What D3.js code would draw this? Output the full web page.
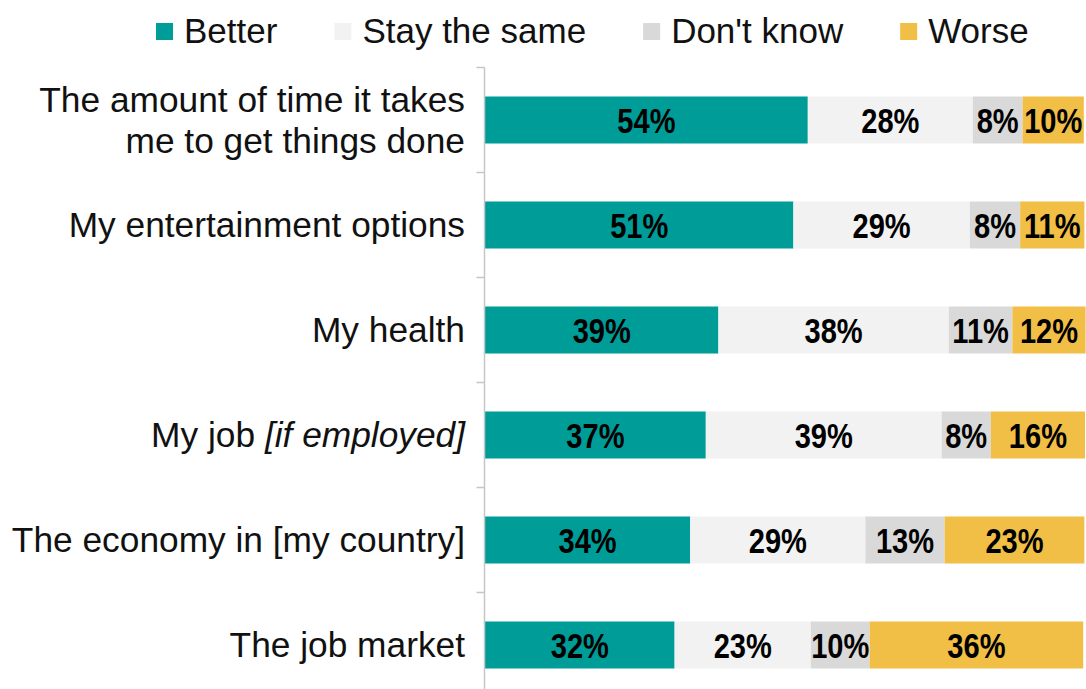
<!DOCTYPE html>
<meta charset="utf-8" />
<title>Better or worse</title>
<script src="https://cdn.jsdelivr.net/npm/d3@7"></script>

<style>
  body {
    margin: 0;
    padding: 0;
    background: #fff;
    font-family: "Liberation Sans", Arial, sans-serif;
  }

  .cat {
    font-size: 35.3px;
    fill: #111;
  }

  .val {
    font-size: 35px;
    font-weight: bold;
    fill: #000;
  }

  .legend text {
    font-size: 35px;
    fill: #111;
  }

  .axis line {
    stroke: #c6c6c6;
    stroke-width: 1.5;
  }
</style>

<body>
  <div id="chart"></div>
</body>

<script>
  // categories, top to bottom
  const categories = [
    "The amount of time it takes|me to get things done",
    "My entertainment options",
    "My health",
    "My job *[if employed]",
    "The economy in [my country]",
    "The job market"
  ];

  // shares in %
  const better = [53.8, 51.4, 38.9, 36.8, 34.2, 31.6];
  const stayTheSame = [27.5, 29.4, 38.4, 39.3, 29.2, 22.7];
  const dontKnow = [8.3, 8.4, 10.6, 8.2, 13.2, 9.8];
  const worse = [10.2, 10.7, 12.2, 15.7, 23.3, 35.6];

  const seriesNames = ["Better", "Stay the same", "Don't know", "Worse"];
  const seriesColors = ["#009c98", "#f2f2f2", "#d9d9d9", "#f1be46"];

  const width = 1086, height = 689;

  const svg = d3.select("#chart")
    .append("svg")
    .attr("width", width)
    .attr("height", height);

  // build rows for the stack
  const rows = categories.map(function (c, i) {
    return {
      cat: c,
      "Better": better[i],
      "Stay the same": stayTheSame[i],
      "Don't know": dontKnow[i],
      "Worse": worse[i]
    };
  });

  const stack = d3.stack().keys(seriesNames);
  const series = stack(rows);

  const x = d3.scaleLinear().domain([0, 100]).range([485, 1085]);
  const y = d3.scaleBand()
    .domain(categories)
    .range([67.5, 697.5])
    .paddingInner(0.5524)
    .paddingOuter(0.2762);

  const color = d3.scaleOrdinal().domain(seriesNames).range(seriesColors);

  // bars
  const groups = svg.selectAll("g.series")
    .data(series)
    .enter()
    .append("g")
    .attr("class", "series")
    .attr("fill", function (d) { return color(d.key); });

  groups.selectAll("rect")
    .data(function (d) { return d; })
    .enter()
    .append("rect")
    .attr("x", function (d) { return x(d[0]); })
    .attr("y", function (d) { return y(d.data.cat); })
    .attr("width", function (d) { return x(d[1]) - x(d[0]); })
    .attr("height", y.bandwidth());

  // value labels (narrow bold look)
  groups.selectAll("text")
    .data(function (d) { return d; })
    .enter()
    .append("text")
    .attr("class", "val")
    .attr("text-anchor", "middle")
    .attr("transform", function (d) {
      const cx = (x(d[0]) + x(d[1])) / 2;
      const cy = y(d.data.cat) + y.bandwidth() / 2 + 12.5;
      return "translate(" + cx + "," + cy + ") scale(0.83,1)";
    })
    .text(function (d) { return Math.round(d[1] - d[0]) + "%"; });

  // axis line with ticks between categories
  const axis = svg.append("g").attr("class", "axis");
  const x0 = 484.5;
  axis.append("line")
    .attr("x1", x0).attr("x2", x0)
    .attr("y1", y.range()[0]).attr("y2", height);

  const bounds = d3.range(categories.length).map(function (i) {
    return y.range()[0] + i * y.step();
  });
  axis.selectAll("line.tick")
    .data(bounds)
    .enter()
    .append("line")
    .attr("class", "tick")
    .attr("x1", x0 - 8).attr("x2", x0)
    .attr("y1", function (d) { return d; })
    .attr("y2", function (d) { return d; });

  // category labels
  const labels = svg.selectAll("text.cat")
    .data(categories)
    .enter()
    .append("text")
    .attr("class", "cat")
    .attr("text-anchor", "end");

  labels.each(function (c) {
    const t = d3.select(this);
    const cy = y(c) + y.bandwidth() / 2;
    const lines = c.split("|");
    lines.forEach(function (ln, j) {
      const by = cy + 12 + (j - (lines.length - 1) / 2) * 41;
      const parts = ln.split("*");
      t.append("tspan").attr("x", 465).attr("y", by).text(parts[0]);
      if (parts.length > 1) {
        t.append("tspan").style("font-style", "italic").text(parts[1]);
      }
    });
  });

  // legend
  const legend = svg.append("g").attr("class", "legend");
  let lx = 156;
  seriesNames.forEach(function (name) {
    const item = legend.append("g").attr("transform", "translate(" + lx + ",0)");
    item.append("rect")
      .attr("x", 0).attr("y", 23)
      .attr("width", 17).attr("height", 17)
      .attr("fill", color(name));
    const txt = item.append("text")
      .attr("x", 28).attr("y", 43)
      .text(name);
    lx += 28 + txt.node().getComputedTextLength() + 57;
  });
</script>
